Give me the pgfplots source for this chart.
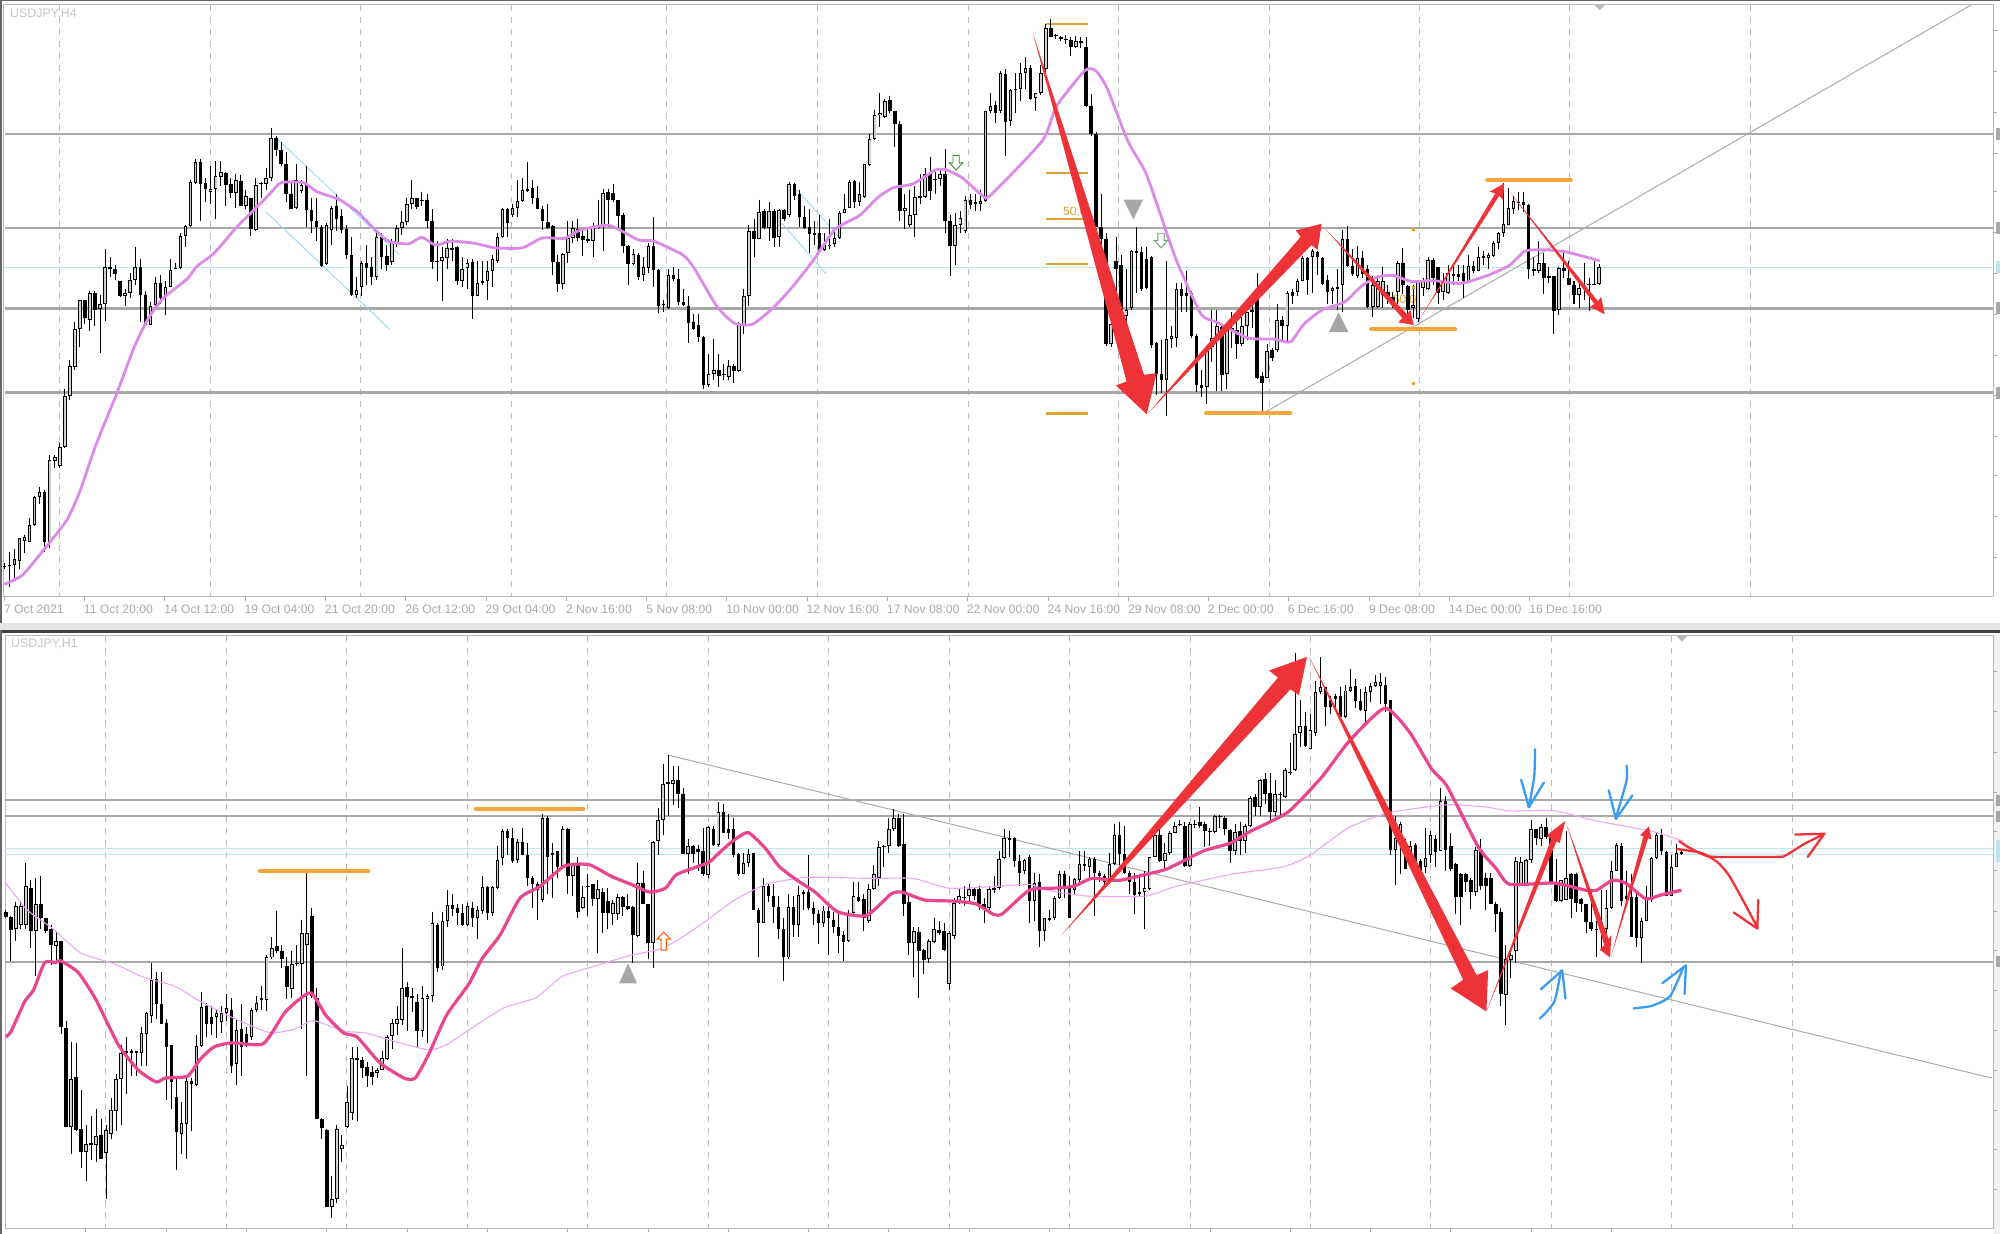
\documentclass[border=0pt]{standalone}
\usepackage{fontspec}
\setmainfont{Liberation Sans}
\usepackage{pgfplots}
\usepackage{pgfplotstable}
\pgfplotsset{compat=1.18}

\definecolor{hline}{HTML}{A8A8A8}
\definecolor{tealline}{HTML}{BCE6EC}
\definecolor{gridgray}{HTML}{BDBDBD}
\definecolor{labelgray}{HTML}{A8A8A8}
\definecolor{maviolet}{HTML}{DC8AE8}
\definecolor{thinviolet}{HTML}{E8A8F2}
\definecolor{mapink}{HTML}{E8468F}
\definecolor{arrowred}{HTML}{EE3338}
\definecolor{barorange}{HTML}{F4A63A}
\definecolor{fiborange}{HTML}{DDA033}
\definecolor{chanblue}{HTML}{9AD8F2}
\definecolor{penblue}{HTML}{3B9BF0}
\definecolor{trend}{HTML}{ABABAB}

% candles, y in picture units (small = high price): high low open close
\pgfplotstableread{
hi lo op cl
1425 1440 1435 1432
1395 1485 1428 1428
1388 1462 1430 1415
1360 1440 1418 1360
1352 1400 1368 1358
1310 1372 1372 1328
1255 1330 1328 1258
1232 1275 1258 1245
1240 1395 1245 1370
1150 1385 1372 1163
1150 1185 1165 1155
1120 1185 1178 1130
985 1132 1130 1002
910 1012 1002 925
815 935 928 832
760 878 832 760
758 820 760 805
735 838 810 742
735 825 742 783
745 893 782 770
630 812 770 675
650 700 675 680
670 708 680 693
710 752 712 750
730 775 750 740
690 755 740 708
625 720 708 675
655 815 675 745
735 825 745 822
765 822 822 775
700 775 772 715
695 770 715 755
710 797 752 725
655 725 725 683
665 680 677 677
590 680 677 598
568 625 598 572
455 575 572 460
403 465 462 410
403 560 410 465
450 510 463 478
420 515 485 477
408 555 478 445
408 470 447 435
435 520 437 468
450 500 465 488
440 525 488 455
442 522 457 520
480 530 522 495
500 598 500 580
450 585 582 468
460 500 465 463
425 480 465 450
325 458 450 350
345 395 350 380
360 420 380 415
385 510 415 490
460 530 490 528
415 530 527 455
455 488 482 468
420 575 465 532
500 590 532 558
500 610 558 575
570 675 575 672
565 670 668 570
520 620 582 525
490 585 522 555
530 590 547 582
570 655 580 645
600 748 645 745
700 755 745 733
660 750 725 665
620 720 665 678
650 722 676 700
585 708 700 600
590 680 600 650
620 685 648 670
605 670 662 612
570 625 618 578
535 595 578 562
500 570 562 515
455 530 515 502
500 530 502 523
485 520 505 508
490 578 505 560
530 680 560 662
610 712 662 660
625 762 660 650
605 680 652 628
605 660 628 632
622 722 625 710
650 725 710 680
655 730 678 665
655 808 662 748
660 750 748 715
660 720 713 712
660 760 712 685
645 725 685 655
590 665 660 600
525 602 600 530
525 600 530 563
515 550 545 527
455 550 527 508
450 510 508 480
410 485 478 482
455 515 475 500
470 530 500 530
520 582 530 560
515 580 562 577
570 695 573 662
645 738 662 718
640 730 718 642
560 665 640 603
560 615 603 578
555 610 580 603
580 648 598 608
575 615 605 610
565 650 610 575
505 580 578 572
478 635 575 488
478 575 487 505
465 510 488 507
507 580 507 547
540 640 545 622
620 722 622 668
630 670 668 642
640 708 645 700
650 710 696 675
615 690 678 622
548 725 622 682
680 792 682 773
760 790 768 772
680 782 778 695
675 710 695 707
680 772 705 765
730 775 765 772
750 868 775 818
795 835 815 832
795 865 822 852
850 985 852 973
895 980 973 945
858 962 945 937
895 980 937 950
920 962 945 948
910 960 953 925
920 970 925 938
815 940 938 820
730 845 822 748
570 775 748 585
555 650 585 605
505 605 605 537
530 580 535 578
510 610 578 535
530 625 535 603
530 625 600 532
530 560 532 553
460 550 545 466
462 505 465 495
480 575 490 550
520 580 548 578
530 640 575 592
560 620 590 595
545 640 590 637
590 635 632 620
555 630 622 620
580 625 618 602
535 605 602 538
490 540 538 530
455 525 525 460
455 525 458 512
460 520 512 492
415 500 498 415
340 420 418 352
278 355 352 292
236 322 292 286
250 298 295 255
242 285 252 280
280 372 280 315
305 560 315 535
490 580 535 527
480 575 568 543
470 600 545 498
440 515 498 497
425 500 498 440
398 505 440 482
435 490 455 452
425 470 452 440
378 590 440 560
545 697 560 622
540 670 622 570
535 590 568 552
495 590 585 505
490 530 505 518
490 535 512 516
480 535 515 508
280 510 508 280
235 285 282 268
255 310 265 285
180 285 282 185
175 395 187 308
225 320 305 228
185 285 228 225
160 255 225 185
145 225 185 172
165 252 172 250
235 280 248 236
165 240 236 185
60 185 175 72
48 95 72 95
85 100 88 92
90 105 93 98
88 112 98 102
95 142 102 118
92 122 118 105
95 122 105 108
95 270 118 268
238 345 268 340
335 575 340 575
490 625 575 605
590 875 605 870
800 878 870 820
600 830 660 680
645 830 670 810
680 830 800 785
632 785 780 635
575 740 635 640
625 735 638 730
625 730 655 728
648 880 650 872
865 998 868 945
860 995 945 960
660 1052 960 858
825 880 858 850
715 878 855 730
715 790 730 748
685 790 740 748
735 855 740 850
845 992 850 975
935 1005 975 982
875 1022 978 878
785 915 878 855
785 990 855 825
825 990 828 948
825 985 945 830
790 880 830 835
815 908 835 870
795 875 870 825
790 860 825 790
740 830 785 790
690 958 755 955
940 1045 950 968
870 955 955 888
880 912 885 905
770 890 885 810
800 860 810 825
735 865 825 740
730 770 738 748
705 750 738 710
648 710 710 652
650 745 652 708
630 742 650 635
635 695 638 650
650 720 652 718
695 770 708 738
725 770 735 728
680 785 730 725
583 789 722 604
573 676 604 673
630 697 673 694
622 702 699 652
635 702 652 694
671 779 681 776
697 803 776 722
702 779 776 712
676 779 745 712
722 769 738 753
738 779 751 769
660 769 738 666
627 743 666 722
722 795 724 784
722 805 780 771
712 815 807 712
702 748 728 712
650 733 731 657
652 722 657 704
676 769 676 741
691 758 739 710
671 743 740 691
666 722 694 694
671 712 694 700
671 753 691 712
645 717 712 673
660 691 673 686
624 686 686 650
635 671 652 648
640 681 652 645
609 650 648 614
588 630 614 590
464 599 590 566
475 570 568 526
495 542 528 508
485 531 513 511
485 537 511 518
516 707 518 681
650 697 681 686
609 691 686 666
640 743 666 702
676 717 697 702
697 846 697 786
676 797 784 678
635 702 678 686
660 722 702 720
712 769 720 745
717 779 745 728
666 759 728 724
702 786 719 722
652 722 720 719
669 720 718 676
}\topcandles

\pgfplotstableread{
hi lo op cl
740 760 745 758
755 870 758 792
720 820 790 730
718 790 778 730
620 790 778 680
665 838 685 795
660 910 795 725
655 790 725 762
760 800 762 795
780 880 790 830
795 875 832 820
820 1058 820 1040
1025 1295 1042 1295
1078 1365 1295 1172
1080 1305 1168 1303
1200 1400 1300 1360
1290 1432 1358 1338
1268 1380 1340 1335
1250 1385 1340 1318
1275 1378 1315 1378
1290 1478 1362 1302
1220 1325 1312 1252
1160 1305 1255 1172
1085 1290 1172 1105
1065 1210 1105 1102
1095 1165 1100 1105
1100 1165 1102 1105
1040 1140 1105 1055
1000 1140 1058 1005
875 1030 1012 920
900 1020 918 982
900 1030 980 1032
1018 1225 1030 1090
1085 1250 1085 1180
1170 1405 1218 1308
1230 1365 1312 1285
1170 1378 1288 1178
1170 1305 1178 1185
1060 1190 1188 1088
950 1090 1088 988
978 1065 985 1032
985 1060 1015 1032
995 1068 1015 1005
985 1055 1028 1005
955 1025 1003 990
965 1158 995 1138
1020 1188 1135 1048
980 1165 1045 1090
1040 1090 1058 1088
990 1072 1065 995
960 1000 995 978
935 995 970 965
855 998 970 862
810 865 862 838
742 850 832 845
830 890 845 865
860 968 885 938
845 965 942 878
830 885 875 878
765 1045 878 800
635 1165 830 800
735 965 755 960
940 1275 965 1275
1272 1325 1275 1298
1300 1500 1302 1500
1420 1528 1500 1480
1290 1490 1480 1300
1315 1385 1352 1340
1190 1298 1296 1230
1090 1278 1260 1118
1090 1280 1118 1125
1115 1170 1125 1145
1130 1192 1142 1165
1140 1188 1155 1168
1145 1170 1157 1150
1100 1150 1150 1120
1060 1125 1122 1065
1020 1095 1062 1030
985 1060 1032 1018
838 1035 1022 940
925 1050 938 962
940 1000 960 965
955 1090 975 1050
935 1065 1050 965
955 1080 968 960
745 975 960 775
775 898 778 888
745 895 885 768
690 785 768 728
700 755 728 738
725 780 735 748
725 782 748 780
722 782 780 730
720 785 735 760
730 815 760 740
655 750 742 682
680 765 683 748
680 755 748 683
578 688 685 612
535 625 608 538
535 600 540 558
530 620 558 615
560 620 612 568
530 600 568 600
570 680 600 658
655 735 658 675
670 765 675 690
495 720 716 505
500 700 505 605
570 710 600 595
590 660 590 630
525 630 628 535
530 700 535 655
620 705 655 620
605 760 625 745
680 738 735 708
650 755 680 682
675 730 675 712
665 850 712 688
685 800 695 748
685 790 718 748
715 780 750 722
700 765 750 708
705 755 708 732
700 740 730 738
730 875 732 805
620 810 808 672
640 725 672 725
725 865 725 825
565 888 825 567
480 600 565 510
368 550 510 418
345 500 415 418
372 472 420 408
372 480 408 445
430 598 445 597
560 650 597 578
575 620 578 597
575 640 585 592
530 655 590 650
525 660 652 528
525 578 535 575
465 580 575 490
470 545 490 545
495 560 535 545
505 605 535 600
595 655 598 650
595 650 648 620
585 630 620 598
595 740 595 740
735 860 740 775
660 775 775 680
675 720 680 705
675 775 705 732
705 815 732 790
760 922 790 862
700 865 862 732
705 810 732 780
680 810 780 702
690 740 700 695
600 740 695 735
720 780 735 752
740 828 752 775
730 785 775 742
725 855 742 762
745 800 765 785
750 850 785 808
795 872 805 822
740 822 820 748
670 755 748 705
670 720 708 718
700 795 712 762
675 775 770 688
625 690 688 650
565 680 660 580
575 630 578 580
505 595 578 535
483 540 535 505
495 580 505 578
495 755 573 725
700 855 720 825
785 912 825 795
785 965 798 845
840 905 843 868
815 875 865 820
760 825 822 790
770 805 792 800
775 845 795 842
795 945 930 800
710 815 808 722
685 725 722 705
680 730 708 708
675 722 705 688
685 715 688 705
680 740 688 725
710 775 725 738
680 740 735 688
655 698 690 685
590 690 685 610
535 610 608 558
538 605 558 558
555 630 558 615
600 680 615 645
610 650 642 612
600 775 605 718
645 770 718 672
650 835 668 795
760 820 795 762
740 770 762 762
705 765 762 710
640 712 710 648
640 710 650 688
655 760 685 760
660 700 690 662
590 670 665 622
590 640 622 628
605 660 632 610
605 755 610 645
640 670 645 655
650 680 655 670
595 670 665 622
520 625 622 550
515 625 550 598
525 650 598 645
640 700 645 670
645 752 670 702
650 708 700 695
640 790 695 685
605 690 688 605
535 605 605 548
535 618 548 615
570 640 615 595
540 600 595 545
515 545 545 525
510 525 520 522
515 630 525 628
515 630 628 522
510 530 520 522
478 530 515 525
515 580 520 540
530 578 538 540
498 545 542 500
498 530 500 500
500 550 505 535
535 620 537 590
520 600 590 542
515 600 540 565
520 595 565 525
450 528 525 455
445 500 452 478
405 500 478 408
392 470 405 445
390 515 442 490
408 500 490 445
440 500 445 448
378 455 452 382
315 395 388 392
85 385 382 290
205 325 288 270
235 325 270 322
240 330 330 282
155 295 288 185
95 190 185 170
170 270 170 222
195 240 205 222
190 225 195 202
170 250 195 248
165 250 248 180
125 185 182 170
150 225 168 208
175 232 208 230
170 260 232 185
160 210 185 168
140 170 168 158
135 215 168 158
145 235 165 215
205 600 205 588
500 677 588 558
515 650 555 520
560 635 568 635
565 620 622 578
570 640 575 622
610 655 615 640
530 645 632 608
540 620 600 550
550 630 560 592
430 590 590 462
450 640 462 588
545 640 578 635
620 752 622 708
645 780 650 708
645 695 650 668
660 738 665 695
580 705 695 588
560 690 588 680
645 740 658 680
645 725 658 725
720 798 725 750
735 985 745 955
830 1035 958 865
850 915 868 855
605 875 845 615
605 680 675 617
610 680 675 612
510 620 612 535
535 575 535 558
520 578 560 528
505 560 528 555
555 668 555 668
610 720 668 718
665 720 718 665
540 715 715 660
645 760 650 712
645 745 650 722
710 745 712 725
725 800 725 772
690 795 772 790
770 862 790 790
690 840 790 772
690 800 790 735
615 738 735 640
570 640 640 575
570 730 578 718
640 720 705 712
650 810 708 810
700 835 708 812
760 875 812 768
680 770 768 712
605 720 716 608
545 610 608 550
535 600 548 590
590 705 592 705
600 705 705 632
572 632 630 595
590 600 592 597
}\bottomcandles

\newcommand{\candles}[3]{% table, first x, bar step
  \addplot[draw=none,mark=none,forget plot,error bars/.cd,y dir=plus,y explicit,error mark=none,
    error bar style={draw=black,line width=0.5pt}]
    table[x expr=#2+#3*\coordindex,y=hi,y error expr=\thisrow{lo}-\thisrow{hi}] {#1};
  \addplot[draw=none,mark=none,forget plot,error bars/.cd,y dir=plus,y explicit,error mark=none,
    error bar style={draw=black,line width=1.75pt}]
    table[x expr=#2+#3*\coordindex,y expr={min(\thisrow{op},\thisrow{cl})},
      y error expr={max(abs(\thisrow{op}-\thisrow{cl}),3)}] {#1};
  \addplot[draw=none,mark=none,forget plot,error bars/.cd,y dir=plus,y explicit,error mark=none,
    error bar style={draw=white!82!black,line width=0.8pt}]
    table[x expr=#2+#3*\coordindex,y expr={\thisrow{cl}+2.5},
      y error expr={max(\thisrow{op}-\thisrow{cl}-5,0)}] {#1};
}
\newcommand{\hl}[3]{\addplot[#3,line width=#2,forget plot] coordinates {(12,#1) (4465,#1)};}
\newcommand{\pricetag}[3]{\addplot[#3,line width=#2,forget plot] coordinates {(4472,#1) (4480,#1)};}
\newcommand{\fib}[1]{\addplot[fiborange,line width=1.1pt,forget plot] coordinates {(2344,#1) (2438,#1)};}
\newcommand{\redpoly}[1]{\addplot[fill=arrowred,draw=none,forget plot] coordinates {#1} -- cycle;}
\newcommand{\pen}[2]{\addplot[#1,line width=1.15pt,smooth,tension=0.4,line cap=round,line join=round,forget plot] coordinates {#2};}
\newcommand{\stroke}[2]{\addplot[#1,line width=1.15pt,line cap=round,line join=round,forget plot] coordinates {#2};}
\newcommand{\orangebar}[1]{\addplot[barorange,line width=2pt,line cap=round,forget plot] coordinates {#1};}

\pgfplotsset{panel/.style={
  scale only axis,anchor=south west,clip=false,
  xmax=4465,y dir=reverse,
  axis line style={draw=hline!80!white,line width=0.5pt},
  tick style={draw=hline,line width=0.4pt},
  major tick length=2pt,tick align=outside,
  xtick pos=bottom,ytick pos=right,yticklabels={},
  major grid style={draw=gridgray,dashed,line width=0.5pt},
  extra x tick style={grid=major,major tick length=0pt},
  extra x tick labels={},
  xticklabel style={anchor=north west,inner sep=0pt,yshift=-2pt,xshift=-0.4pt,
    font=\fontsize{6.1}{7}\selectfont,text=labelgray},
}}

\begin{document}
\begin{tikzpicture}
% window chrome round the two panels
\fill[black!60] (0pt,616.4pt) rectangle (1000pt,617pt);
\fill[black!60] (0pt,305.5pt) rectangle (0.85pt,617pt);
\fill[white!90!black] (0pt,302pt) rectangle (1000pt,305.5pt);
\fill[black!75] (0pt,300.65pt) rectangle (1000pt,302pt);
\fill[black!60] (0pt,0pt) rectangle (1.2pt,302pt);
\fill[white!95!black] (996.5pt,0pt) rectangle (1000pt,300.65pt);

% H4 panel
\begin{axis}[panel,at={(2pt,318.5pt)},width=994.5pt,height=296.15pt,
  xmin=9,ymin=12,ymax=1510,
  xtick={10,189,369,549,729,909,1089,1269,1449,1628,1808,1988,2167,2348,2528,2707,2886,3068,3247,3427},
  xticklabels={7 Oct 2021,11 Oct 20:00,14 Oct 12:00,19 Oct 04:00,21 Oct 20:00,26 Oct 12:00,29 Oct 04:00,2 Nov 16:00,5 Nov 08:00,10 Nov 00:00,12 Nov 16:00,17 Nov 08:00,22 Nov 00:00,24 Nov 16:00,29 Nov 08:00,2 Dec 00:00,6 Dec 16:00,9 Dec 08:00,14 Dec 00:00,16 Dec 16:00},
  extra x ticks={133,471,808,1146,1494,1831,2169,2506,2843,3180,3517,3922},
  ytick={77,181,284,387,485,588,691,795,898,1001,1104,1202,1305,1409},
]
\hl{339}{1.25pt}{hline}
\hl{577}{1.25pt}{hline}
\hl{780}{1.25pt}{hline}
\hl{993}{1.25pt}{hline}
\hl{677}{0.6pt}{tealline}
\pricetag{340}{6pt}{hline}
\pricetag{578}{6pt}{hline}
\pricetag{779}{6pt}{hline}
\pricetag{993}{6pt}{hline}
\pricetag{676}{6pt}{tealline}
% channels and trend line
\addplot[chanblue,line width=0.45pt,forget plot] coordinates {(620,350) (895,645)};
\addplot[chanblue,line width=0.45pt,forget plot] coordinates {(595,535) (873,833)};
\addplot[chanblue,line width=0.45pt,forget plot] coordinates {(1786,480) (1884,605)};
\addplot[chanblue,line width=0.45pt,forget plot] coordinates {(1752,565) (1851,693)};
\addplot[trend,line width=0.5pt,forget plot] coordinates {(2831,1045) (4417,12)};
% fibonacci levels
\fib{60}
\fib{437}
\fib{555}
\fib{668}
\fib{1046}
\node[text=fiborange,inner sep=0pt,anchor=west,font=\fontsize{6}{7}\selectfont] at (axis cs:2381,535) {50.0};
\node[text=fiborange,inner sep=0pt,anchor=west,font=\fontsize{6}{7}\selectfont] at (axis cs:3120,758) {50.0};
\addplot[only marks,mark=square*,mark size=0.5pt,color=fiborange,forget plot] coordinates {(3167,580) (3167,728) (3167,970)};

\candles{\topcandles}{10}{11.27}

% moving average
\addplot[maviolet,line width=1.4pt,smooth,tension=0.35,line join=round,forget plot] coordinates {
(10,1478) (50,1455) (95,1395) (150,1315) (180,1240) (215,1125) (260,1000) (300,880) (330,810) (365,755)
(420,705) (440,675) (480,640) (530,575) (570,530) (605,490) (630,462) (680,462) (710,485) (760,505)
(800,535) (835,575) (870,610) (915,617) (945,600) (975,620) (1010,610) (1060,615) (1110,627) (1170,627)
(1215,602) (1265,603) (1300,582) (1365,570) (1430,607) (1465,610) (1530,645) (1556,680) (1606,775) (1646,818)
(1686,820) (1731,780) (1776,725) (1821,660) (1871,580) (1926,545) (1966,500) (2001,475) (2046,465) (2096,430)
(2121,430) (2156,450) (2196,490) (2218,495) (2336,355) (2366,270) (2431,178) (2456,180) (2481,225) (2526,355)
(2566,435) (2596,530) (2636,660) (2691,795) (2726,815) (2796,855) (2856,858) (2891,865) (2921,820) (2962,784)
(3012,764) (3052,722) (3087,700) (3122,697) (3162,712) (3212,710) (3272,717) (3332,697) (3382,671) (3417,635)
(3462,632) (3512,638) (3584,660)};

% signal marks
\addplot[fill=white,draw=green!45!black!80,line width=0.45pt,forget plot] coordinates {(2135,393) (2149,393) (2149,412) (2157,412) (2142,430) (2127,412) (2135,412)} -- cycle;
\addplot[fill=white,draw=green!35!black!60,line width=0.45pt,forget plot] coordinates {(2594,590) (2608,590) (2608,608) (2616,608) (2601,627) (2586,608) (2594,608)} -- cycle;
\addplot[fill=gray!70,draw=none,forget plot] coordinates {(2517,505) (2561,505) (2539,555)} -- cycle;
\addplot[fill=gray!70,draw=none,forget plot] coordinates {(2977,840) (3021,840) (2999,790)} -- cycle;
\addplot[fill=gray!55,draw=none,forget plot] coordinates {(3572,12) (3596,12) (3584,26)} -- cycle;

% drawn levels and arrows
\orangebar{(2702,1045) (2891,1045)}
\orangebar{(3072,833) (3260,833)}
\orangebar{(3332,455) (3519,455)}
\redpoly{(2313,80) (2563,948) (2591,944) (2569,1048) (2500,975) (2524,965)}
\redpoly{(2572,1045) (2914,599) (2903,583) (2961,566) (2952,632) (2938,620)}
\redpoly{(2967,576) (3152,795) (3160,784) (3167,822) (3132,815) (3142,805)}
\redpoly{(3180,808) (3350,489) (3337,485) (3370,464) (3367,506) (3359,495)}
\redpoly{(3382,485) (3580,762) (3587,751) (3595,795) (3562,776) (3572,769)}
\node[text=gray!45,inner sep=0pt,anchor=west,font=\fontsize{6.2}{7}\selectfont] at (axis cs:22,35) {USDJPY,H4};
\end{axis}

% H1 panel
\begin{axis}[panel,at={(2.7pt,3pt)},width=993.8pt,height=296.15pt,
  xmin=12,ymin=40,ymax=1553,
  xtick={192,372,552,732,912,1092,1272,1452,1631,1811,1991,2171,2351,2531,2711,2891,3070,3250,3430,3610},
  xticklabels={},
  extra x ticks={237,507,777,1047,1317,1587,1857,2127,2396,2666,2936,3205,3475,3745,4015},
  ytick={130,233,337,440,540,640,745,845,945,1048,1150,1252,1352,1455},
]
\hl{460}{1.25pt}{hline}
\hl{501}{1.25pt}{hline}
\hl{873}{1.25pt}{hline}
\hl{583}{0.6pt}{tealline}
\hl{599}{0.6pt}{tealline}
\pricetag{460}{5.5pt}{hline}
\pricetag{501}{5.5pt}{hline}
\pricetag{873}{5.5pt}{hline}
\pricetag{590}{11pt}{tealline}
\addplot[trend,line width=0.5pt,forget plot] coordinates {(1497,345) (4462,1170)};

\candles{\bottomcandles}{13}{11.24}

% moving averages
\addplot[thinviolet,line width=0.55pt,smooth,tension=0.35,forget plot] coordinates {
(13,672) (60,740) (120,790) (180,850) (260,880) (320,912) (390,935) (450,975) (510,1010) (570,1040)
(610,1055) (660,1045) (690,1027) (710,1025) (770,1050) (820,1055) (880,1075) (960,1098) (1000,1085) (1060,1040)
(1130,990) (1200,965) (1260,910) (1330,885) (1410,857) (1480,840) (1526,812) (1586,765) (1646,715) (1716,675)
(1786,660) (1826,657) (1956,660) (2046,660) (2126,685) (2236,680) (2306,675) (2346,690) (2436,705) (2566,705)
(2636,680) (2756,650) (2876,630) (2936,600) (3022,530) (3112,492) (3242,472) (3332,478) (3382,488) (3482,487)
(3572,512) (3702,540) (3772,565)};
\addplot[mapink,line width=1.6pt,smooth,tension=0.35,line join=round,forget plot] coordinates {
(13,1065) (25,1050) (55,975) (75,945) (100,875) (125,875) (135,870) (175,900) (215,970) (265,1085)
(310,1150) (350,1180) (370,1170) (420,1165) (450,1120) (480,1090) (520,1080) (590,1082) (640,1000) (695,952)
(730,1010) (770,1055) (800,1065) (850,1130) (905,1170) (930,1170) (960,1110) (1000,1010) (1050,930) (1080,865)
(1120,805) (1165,710) (1210,680) (1265,628) (1320,625) (1370,655) (1420,678) (1456,695) (1491,685) (1516,650)
(1586,620) (1606,600) (1641,565) (1676,543) (1716,585) (1746,630) (1786,665) (1826,695) (1876,745) (1941,755)
(1996,700) (2021,695) (2071,715) (2136,718) (2186,725) (2226,752) (2246,750) (2306,690) (2361,685) (2406,680)
(2446,660) (2506,665) (2566,650) (2616,635) (2696,590) (2756,570) (2801,540) (2886,490) (2962,400) (3022,310)
(3102,225) (3157,285) (3207,380) (3242,425) (3312,580) (3352,635) (3382,675) (3482,672) (3552,690) (3577,690)
(3612,665) (3642,672) (3687,712) (3722,702) (3767,690)};

% signal marks
\addplot[fill=white,draw=orange!70!red,line width=0.5pt,forget plot] coordinates {(1481,843) (1493,843) (1493,815) (1502,815) (1487,797) (1472,815) (1481,815)} -- cycle;
\addplot[fill=gray!70,draw=none,forget plot] coordinates {(1387,928) (1427,928) (1407,877)} -- cycle;
\addplot[fill=gray!55,draw=none,forget plot] coordinates {(3755,40) (3781,40) (3768,55)} -- cycle;

% drawn levels and arrows
\orangebar{(582,642) (825,642)}
\orangebar{(1065,482) (1307,482)}
\redpoly{(2378,805) (2863,147) (2843,129) (2928,94) (2910,192) (2891,177)}
\redpoly{(2933,94) (3308,907) (3334,894) (3330,1000) (3250,941) (3278,919)}
\redpoly{(3330,1000) (3475,560) (3465,550) (3507,513) (3494,570) (3487,565)}
\redpoly{(3509,520) (3604,815) (3610,805) (3607,862) (3584,842) (3594,830)}
\redpoly{(3609,860) (3682,552) (3674,550) (3694,527) (3700,560) (3692,558)}
% hand drawn forecasts
\pen{arrowred}{(3762,565) (3782,580) (3817,600) (3842,605) (3982,605) (4002,600) (4042,572) (4087,546)}
\stroke{arrowred}{(4022,548) (4087,546) (4050,605)}
\pen{arrowred}{(3757,585) (3812,595) (3847,618) (3872,650) (3902,710) (3937,785)}
\stroke{arrowred}{(3884,747) (3937,788) (3939,715)}
\pen{penblue}{(3439,330) (3437,400) (3425,478)}
\stroke{penblue}{(3408,408) (3425,478) (3459,415)}
\pen{penblue}{(3644,372) (3644,410) (3620,505)}
\stroke{penblue}{(3604,435) (3620,508) (3657,448)}
\pen{penblue}{(3450,1018) (3482,975) (3497,895)}
\stroke{penblue}{(3452,943) (3500,895) (3507,967)}
\pen{penblue}{(3660,992) (3702,985) (3742,960) (3772,885)}
\stroke{penblue}{(3724,928) (3777,882) (3774,955)}
\node[text=gray!45,inner sep=0pt,anchor=west,font=\fontsize{6.2}{7}\selectfont] at (axis cs:24,62) {USDJPY,H1};
\end{axis}
\pgfresetboundingbox
\path[use as bounding box] (0pt,0pt) rectangle (1000pt,617pt);
\end{tikzpicture}
\end{document}
